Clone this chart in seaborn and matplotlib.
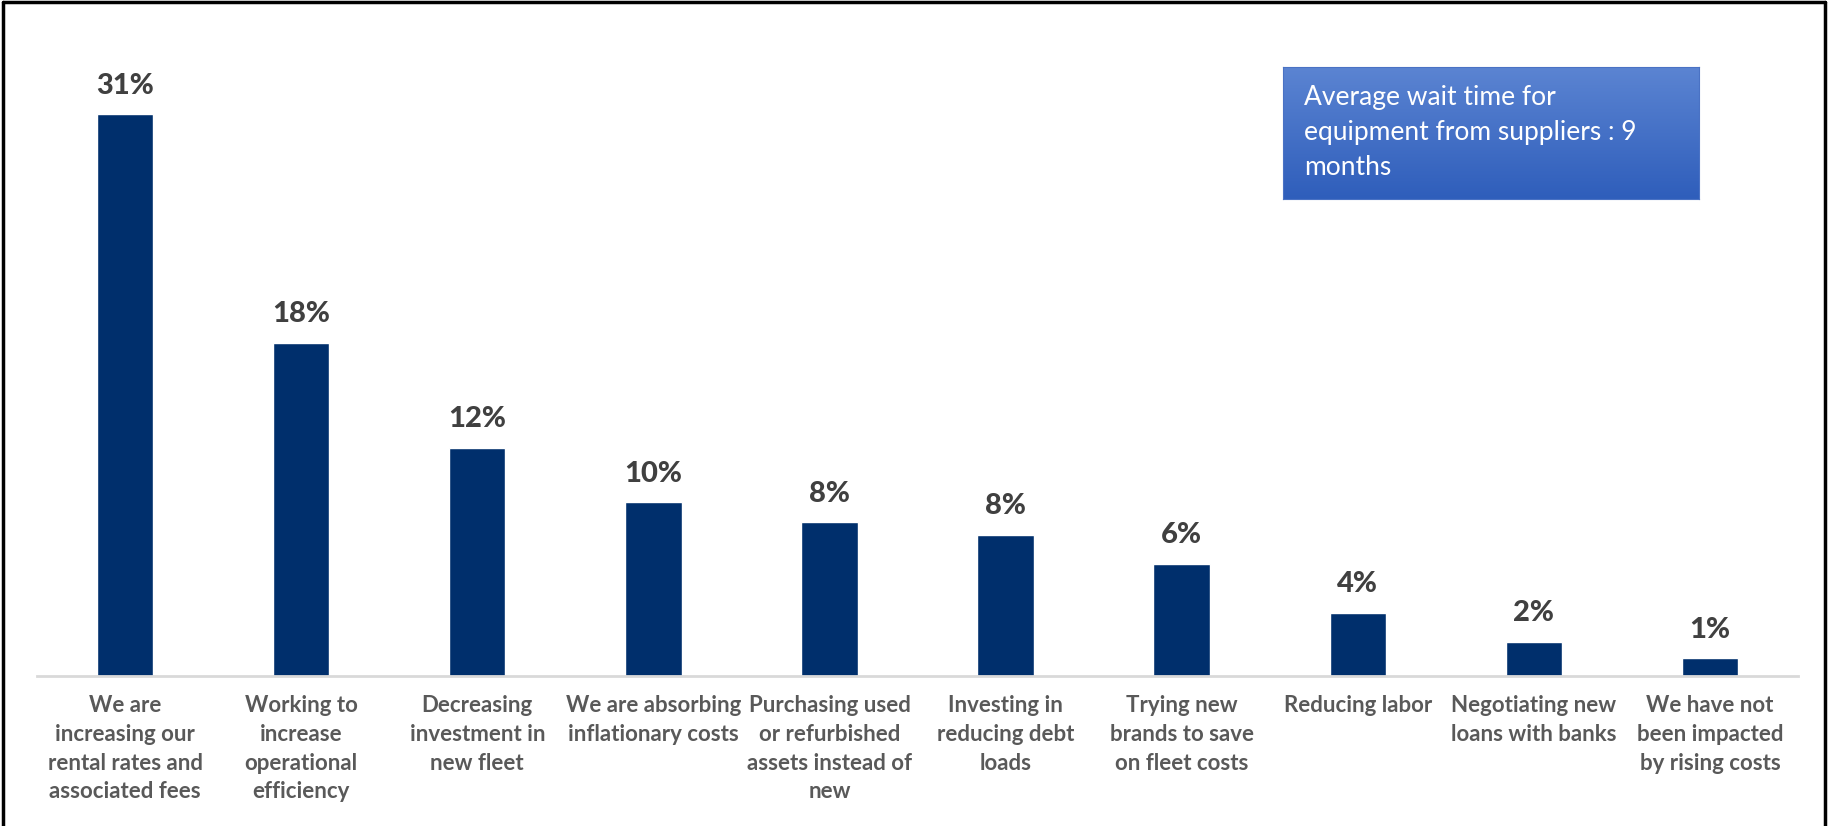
import numpy as np
import pandas as pd
import matplotlib
matplotlib.use("Agg")
import matplotlib.pyplot as plt
import seaborn as sns
from matplotlib.lines import Line2D

categories = [
    "We are\nincreasing our\nrental rates and\nassociated fees",
    "Working to\nincrease\noperational\nefficiency",
    "Decreasing\ninvestment in\nnew fleet",
    "We are absorbing\ninflationary costs",
    "Purchasing used\nor refurbished\nassets instead of\nnew",
    "Investing in\nreducing debt\nloads",
    "Trying new\nbrands to save\non fleet costs",
    "Reducing labor",
    "Negotiating new\nloans with banks",
    "We have not\nbeen impacted\nby rising costs",
]
values = [31.0, 18.4, 12.6, 9.6, 8.5, 7.8, 6.2, 3.5, 1.9, 1.0]
value_labels = ["31%", "18%", "12%", "10%", "8%", "8%", "6%", "4%", "2%", "1%"]
note = "Average wait time for\nequipment from suppliers : 9\nmonths"

sns.set_style("white")
plt.rcParams["font.family"] = ["Lato", "DejaVu Sans"]

df = pd.DataFrame({"category": categories, "value": values})

fig = plt.figure(figsize=(18.31, 8.26), dpi=100)
ax = fig.add_axes([37 / 1831, 1 - 676 / 826, 1761 / 1831, 616 / 826])

sns.barplot(data=df, x="category", y="value", color="#002F6C",
            saturation=1, width=0.32, ax=ax)

ax.set_ylim(0, 34)
ax.set_xlim(-0.5, len(categories) - 0.5)
ax.set_xlabel("")
ax.set_ylabel("")
ax.set_yticks([])
for s in ["top", "right", "left"]:
    ax.spines[s].set_visible(False)
ax.spines["bottom"].set_color("#D9D9D9")
ax.spines["bottom"].set_linewidth(2)

ax.tick_params(axis="x", length=0, pad=14)
ax.set_xticks(range(len(categories)))
ax.set_xticklabels(categories, fontsize=16, fontweight="bold",
                   color="#595959", linespacing=1.45, va="top")

for i, (v, lab) in enumerate(zip(values, value_labels)):
    ax.annotate(lab, (i, v), xytext=(0, 11), textcoords="offset points",
                ha="center", va="bottom", fontsize=21, fontweight="black",
                color="#404040")

# gradient note box
bax = fig.add_axes([1283 / 1831, 1 - 199 / 826, 416 / 1831, 132 / 826])
top_c = np.array(matplotlib.colors.to_rgb("#5B84D2"))
bot_c = np.array(matplotlib.colors.to_rgb("#2F5EBB"))
t = np.linspace(0, 1, 100)[:, None]
grad = (top_c[None, :] * (1 - t) + bot_c[None, :] * t)[:, None, :]
bax.imshow(grad, aspect="auto", extent=[0, 1, 0, 1])
bax.set_xticks([])
bax.set_yticks([])
for s in bax.spines.values():
    s.set_color("#4A72C4")
bax.text(21 / 416, 0.86, note, transform=bax.transAxes, ha="left", va="top",
         fontsize=19, color="white", linespacing=1.5)

# outer frame
for xs, ys in [([0.0015, 0.0015], [0, 0.997]), ([0.0015, 0.9965], [0.997, 0.997]),
               ([0.9965, 0.9965], [0, 0.997])]:
    fig.add_artist(Line2D(xs, ys, color="black", linewidth=2.5,
                          transform=fig.transFigure))

fig.savefig("out.png", dpi=100)
